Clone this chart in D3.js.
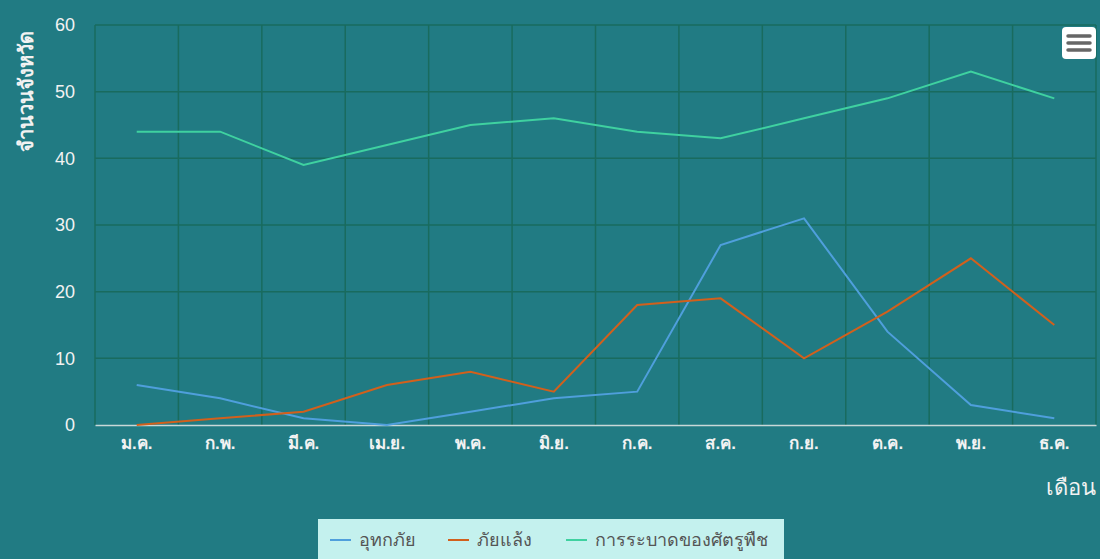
<!DOCTYPE html>
<html>
<head>
<meta charset="utf-8">
<script src="https://cdn.jsdelivr.net/npm/d3@7"></script>
<style>
  body { margin: 0; background: #217b83; font-family: "Noto Sans", "Open Sans", sans-serif; }
  .grid line { stroke: #196b5e; stroke-width: 1.5; }
  .tick text { fill: #f2f2f2; }
</style>
</head>
<body>
<div id="chart"></div>
<script>
// months on the x axis
const months = ["ม.ค.", "ก.พ.", "มี.ค.", "เม.ย.", "พ.ค.", "มิ.ย.", "ก.ค.", "ส.ค.", "ก.ย.", "ต.ค.", "พ.ย.", "ธ.ค."];
const yTicks = [0, 10, 20, 30, 40, 50, 60];

// number of provinces per month
const flood   = [6, 4, 1, 0, 2, 4, 5, 27, 31, 14, 3, 1];
const drought = [0, 1, 2, 6, 8, 5, 18, 19, 10, 17, 25, 15];
const pests   = [44, 44, 39, 42, 45, 46, 44, 43, 46, 49, 53, 49];

const seriesNames  = ["อุทกภัย", "ภัยแล้ง", "การระบาดของศัตรูพืช"];
const seriesColors = ["#4f9fdc", "#d2601c", "#3fd1a0"];

const W = 1100, H = 559;
const margin = {top: 25, right: 4, bottom: 134, left: 95};
const w = W - margin.left - margin.right;
const h = H - margin.top - margin.bottom;

const svg = d3.select("#chart").append("svg")
  .attr("width", W)
  .attr("height", H);

const g = svg.append("g")
  .attr("transform", `translate(${margin.left},${margin.top})`);

const x = d3.scaleBand().domain(months).range([0, w]);
const y = d3.scaleLinear().domain([0, 60]).range([h, 0]);

// vertical grid at category boundaries
const bounds = months.map(m => x(m)).concat([w]);
g.append("g").attr("class", "grid")
  .selectAll("line")
  .data(bounds)
  .enter().append("line")
  .attr("x1", d => d).attr("x2", d => d)
  .attr("y1", 0).attr("y2", h);

// horizontal grid
g.append("g").attr("class", "grid")
  .selectAll("line")
  .data(yTicks.filter(d => d > 0))
  .enter().append("line")
  .attr("x1", 0).attr("x2", w)
  .attr("y1", d => y(d)).attr("y2", d => y(d));

// x axis
const xAxis = g.append("g")
  .attr("transform", `translate(0,${h})`)
  .call(d3.axisBottom(x).tickSize(0).tickPadding(12));
xAxis.select(".domain").attr("stroke", "#c8d8d8").attr("stroke-width", 1.5);
xAxis.selectAll("text").attr("font-size", 17).attr("font-weight", "bold");

// y axis
const yAxis = g.append("g")
  .call(d3.axisLeft(y).tickValues(yTicks).tickSize(0).tickPadding(20));
yAxis.select(".domain").remove();
yAxis.selectAll("text").attr("font-size", 18);

// axis titles
svg.append("text")
  .attr("transform", `translate(33,${margin.top + 66}) rotate(-90)`)
  .attr("text-anchor", "middle")
  .attr("fill", "#f2f2f2")
  .attr("font-size", 20)
  .attr("font-weight", "bold")
  .text("จำนวนจังหวัด");

svg.append("text")
  .attr("x", W - 4)
  .attr("y", 495)
  .attr("text-anchor", "end")
  .attr("fill", "#f2f2f2")
  .attr("font-size", 22)
  .text("เดือน");

// lines
const allSeries = [flood, drought, pests];
const line = d3.line()
  .x((d, i) => x(months[i]) + x.bandwidth() / 2)
  .y(d => y(d));

g.selectAll(".series")
  .data(allSeries)
  .enter().append("path")
  .attr("class", "series")
  .attr("fill", "none")
  .attr("stroke", (d, i) => seriesColors[i])
  .attr("stroke-width", 2)
  .attr("d", line);

// legend
const legend = svg.append("g").attr("transform", "translate(318,519)");
legend.append("rect")
  .attr("width", 466).attr("height", 45)
  .attr("fill", "#c4f1ee");
const legendX = [12, 130, 248];
seriesNames.forEach((name, i) => {
  const item = legend.append("g").attr("transform", `translate(${legendX[i]},21)`);
  item.append("line")
    .attr("x1", 0).attr("x2", 21)
    .attr("stroke", seriesColors[i]).attr("stroke-width", 2);
  item.append("text")
    .attr("x", 29).attr("y", 6)
    .attr("fill", "#555")
    .attr("font-size", 18)
    .text(name);
});

// menu button
const menu = svg.append("g").attr("transform", "translate(1062,27)");
menu.append("rect")
  .attr("width", 34).attr("height", 32).attr("rx", 4)
  .attr("fill", "#ffffff");
[9, 16, 23].forEach(yy => {
  menu.append("line")
    .attr("x1", 6).attr("x2", 28)
    .attr("y1", yy).attr("y2", yy)
    .attr("stroke", "#666").attr("stroke-width", 3.5)
    .attr("stroke-linecap", "round");
});
</script>
</body>
</html>
